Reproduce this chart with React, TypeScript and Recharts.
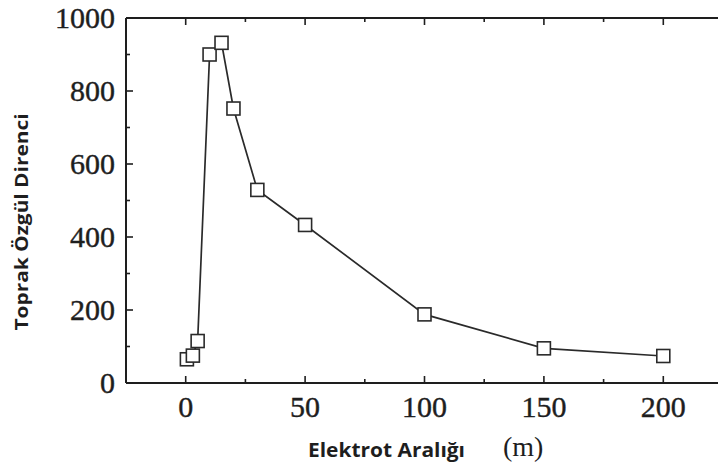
import React from 'react';
import { LineChart, Line, XAxis, YAxis } from 'recharts';

// electrode spacing (m) vs. soil resistivity
const spacing = [0.5, 3, 5, 10, 15, 20, 30, 50, 100, 150, 200];
const resistivity = [65, 75, 115, 900, 932, 752, 529, 433, 188, 95, 74];

const xTicks = [0, 25, 50, 75, 100, 125, 150, 175, 200];
const xLabels = [0, 50, 100, 150, 200];
const yTicks = [0, 100, 200, 300, 400, 500, 600, 700, 800, 900, 1000];
const yLabels = [0, 200, 400, 600, 800, 1000];

const data = spacing.map((s, i) => ({ spacing: s, resistivity: resistivity[i] }));

const INK = '#1e1e1e';
const SERIF = '"Liberation Serif", "Times New Roman", serif';
const SANS = '"Open Sans", "Noto Sans", sans-serif';

const tickLen = (major: boolean) => (major ? 7 : 4);

const BottomTick = (p: any) => {
  const v = p.payload.value;
  const major = xLabels.includes(v);
  return (
    <g>
      <line x1={p.x} x2={p.x} y1={p.y} y2={p.y - tickLen(major)} stroke={INK} strokeWidth={1.6} />
      {major && (
        <text x={p.x} y={p.y + 34} textAnchor="middle" fontFamily={SERIF} fontSize={30} fill={INK} stroke={INK} strokeWidth={0.4}>
          {v}
        </text>
      )}
    </g>
  );
};

const TopTick = (p: any) => {
  const major = xLabels.includes(p.payload.value);
  return <line x1={p.x} x2={p.x} y1={p.y} y2={p.y + tickLen(major)} stroke={INK} strokeWidth={1.6} />;
};

const LeftTick = (p: any) => {
  const v = p.payload.value;
  const major = yLabels.includes(v);
  return (
    <g>
      <line x1={p.x} x2={p.x + tickLen(major)} y1={p.y} y2={p.y} stroke={INK} strokeWidth={1.6} />
      {major && (
        <text x={p.x - 11} y={p.y + 10} textAnchor="end" fontFamily={SERIF} fontSize={30} fill={INK} stroke={INK} strokeWidth={0.4}>
          {v}
        </text>
      )}
    </g>
  );
};

const RightTick = (p: any) => {
  const major = yLabels.includes(p.payload.value);
  return <line x1={p.x} x2={p.x - tickLen(major)} y1={p.y} y2={p.y} stroke={INK} strokeWidth={1.6} />;
};

const SquareDot = (p: any) => {
  if (p.cx == null || p.cy == null) return null;
  return (
    <rect
      key={`sq-${p.index}`}
      x={p.cx - 6.5}
      y={p.cy - 6.5}
      width={13}
      height={13}
      fill="#fff"
      stroke="#2a2a2a"
      strokeWidth={1.6}
    />
  );
};

export default function App() {
  return (
    <div style={{ position: 'absolute', left: 0, top: 0, width: 718, height: 468, overflow: 'hidden', background: '#fff' }}>
      <LineChart width={730} height={468} data={data} margin={{ top: 0, right: 0, bottom: 0, left: 0 }}>
        <XAxis
          xAxisId="bottom"
          dataKey="spacing"
          type="number"
          domain={[-25, 225]}
          ticks={xTicks}
          interval={0}
          height={85}
          tickSize={0}
          tickMargin={0}
          axisLine={{ stroke: INK, strokeWidth: 2 }}
          tick={(p: any) => <BottomTick {...p} />}
        />
        <XAxis
          xAxisId="top"
          orientation="top"
          dataKey="spacing"
          type="number"
          domain={[-25, 225]}
          ticks={xTicks}
          interval={0}
          height={18}
          tickSize={0}
          tickMargin={0}
          axisLine={{ stroke: INK, strokeWidth: 2 }}
          tick={(p: any) => <TopTick {...p} />}
        />
        <YAxis
          yAxisId="left"
          type="number"
          domain={[0, 1000]}
          ticks={yTicks}
          interval={0}
          width={126}
          tickSize={0}
          tickMargin={0}
          axisLine={{ stroke: INK, strokeWidth: 2 }}
          tick={(p: any) => <LeftTick {...p} />}
        />
        <YAxis
          yAxisId="right"
          orientation="right"
          type="number"
          domain={[0, 1000]}
          ticks={yTicks}
          interval={0}
          width={7}
          tickSize={0}
          tickMargin={0}
          axisLine={{ stroke: INK, strokeWidth: 2 }}
          tick={(p: any) => <RightTick {...p} />}
        />
        <Line
          xAxisId="bottom"
          yAxisId="left"
          type="linear"
          dataKey="resistivity"
          stroke="#2a2a2a"
          strokeWidth={1.7}
          dot={(p: any) => <SquareDot {...p} />}
          activeDot={false}
          isAnimationActive={false}
        />
        <text
          x={28}
          y={222}
          transform="rotate(-90, 28, 222)"
          textAnchor="middle"
          fontFamily={SANS}
          fontWeight="bold"
          fontSize={18}
          textLength={217}
          lengthAdjust="spacingAndGlyphs"
          fill={INK}
        >
          Toprak Özgül Direnci
        </text>
        <text
          x={308}
          y={457}
          fontFamily={SANS}
          fontWeight="bold"
          fontSize={19}
          textLength={157}
          lengthAdjust="spacingAndGlyphs"
          fill={INK}
        >
          Elektrot Aralığı
        </text>
        <text x={503} y={456} fontFamily={SERIF} fontSize={28} fill={INK}>
          (m)
        </text>
      </LineChart>
    </div>
  );
}
